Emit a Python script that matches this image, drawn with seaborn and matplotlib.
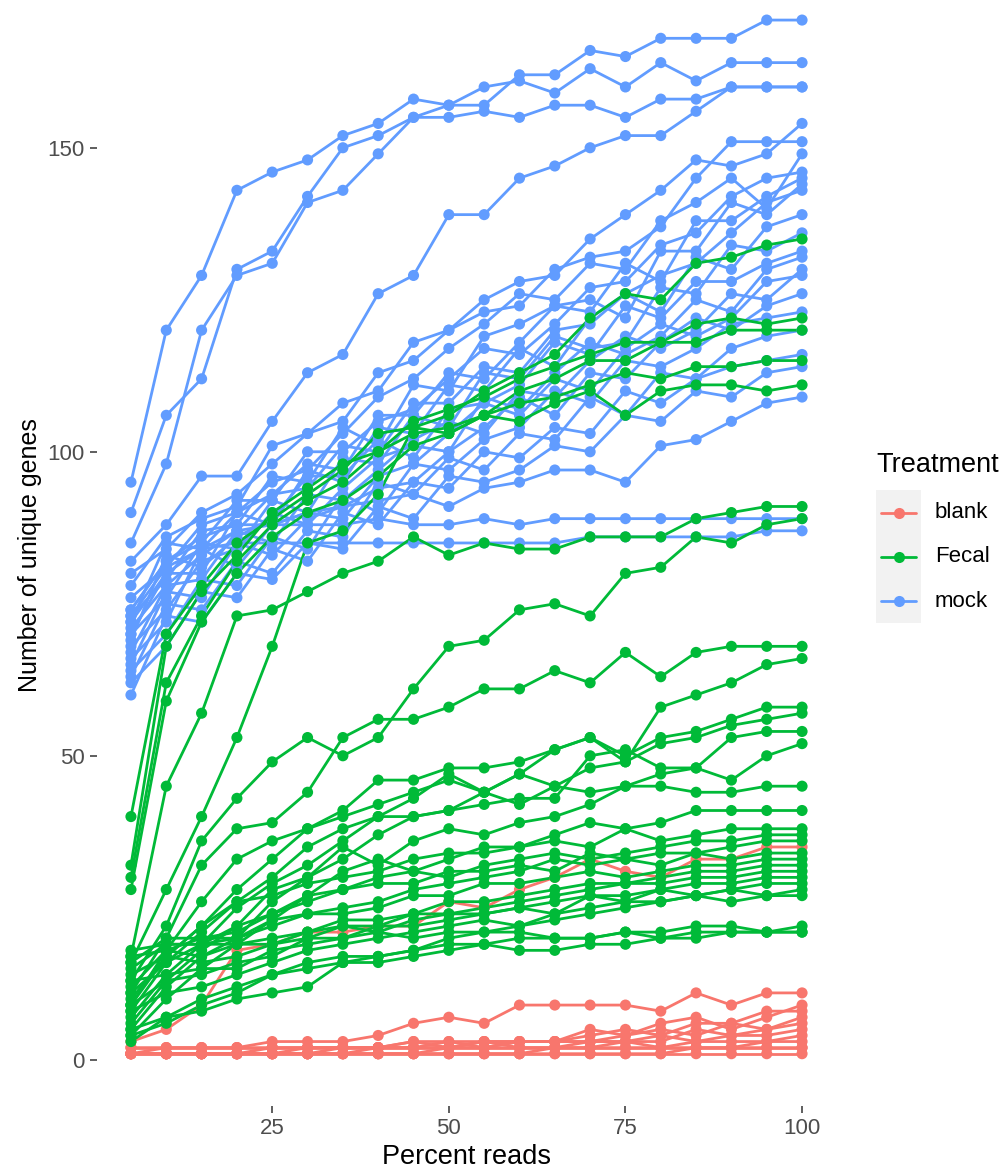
import matplotlib
matplotlib.use("Agg")
import matplotlib.pyplot as plt
from matplotlib.lines import Line2D
from matplotlib.patches import Rectangle
import seaborn as sns
import pandas as pd

# ------------------------------
# DATA
# ------------------------------

pct_reads = [5, 10, 15, 20, 25, 30, 35, 40, 45, 50,
             55, 60, 65, 70, 75, 80, 85, 90, 95, 100]

# blank samples
blank_01 = [3, 5, 9, 18, 19, 21, 21, 22, 22, 26, 25, 28, 30, 33, 31, 30, 33, 33, 35, 35]
blank_02 = [1, 2, 2, 2, 3, 3, 3, 4, 6, 7, 6, 9, 9, 9, 9, 8, 11, 9, 11, 11]
blank_03 = [1, 1, 1, 1, 2, 2, 2, 2, 2, 2, 3, 3, 3, 5, 4, 6, 7, 5, 7, 9]
blank_04 = [1, 1, 1, 1, 1, 2, 2, 2, 2, 3, 2, 3, 3, 4, 5, 4, 6, 6, 8, 8]
blank_05 = [1, 1, 1, 1, 1, 1, 2, 2, 3, 2, 2, 3, 3, 3, 4, 5, 4, 6, 5, 7]
blank_06 = [1, 1, 1, 1, 1, 1, 1, 2, 2, 2, 3, 2, 2, 3, 3, 3, 5, 4, 5, 6]
blank_07 = [2, 2, 2, 2, 2, 2, 2, 2, 3, 3, 3, 3, 3, 3, 3, 4, 3, 4, 4, 5]
blank_08 = [1, 1, 1, 1, 1, 1, 1, 1, 1, 2, 2, 2, 2, 2, 3, 2, 3, 3, 3, 4]
blank_09 = [1, 1, 1, 1, 1, 1, 1, 1, 1, 1, 1, 1, 2, 2, 2, 2, 2, 2, 3, 3]
blank_10 = [1, 1, 1, 1, 1, 1, 1, 1, 1, 1, 1, 1, 1, 1, 1, 1, 2, 2, 2, 2]
blank_11 = [1, 1, 1, 1, 1, 1, 1, 1, 1, 1, 1, 1, 1, 1, 1, 1, 1, 1, 1, 1]
blank_12 = [2, 2, 2, 2, 2, 2, 2, 2, 2, 2, 2, 2, 2, 2, 2, 2, 2, 2, 2, 2]

# Fecal samples
fecal_01 = [40, 70, 78, 85, 89, 93, 97, 103, 104, 106, 110, 113, 116, 122, 126, 125, 131, 132, 134, 135]
fecal_02 = [32, 68, 77, 83, 90, 94, 98, 100, 105, 107, 109, 112, 114, 116, 118, 118, 121, 122, 121, 122]
fecal_03 = [30, 62, 73, 82, 88, 92, 95, 100, 103, 104, 106, 110, 112, 115, 115, 118, 118, 120, 120, 120]
fecal_04 = [28, 59, 72, 80, 86, 90, 92, 96, 101, 103, 106, 108, 109, 111, 113, 112, 114, 114, 115, 115]
fecal_05 = [16, 28, 40, 53, 68, 85, 87, 93, 104, 103, 106, 105, 108, 110, 106, 110, 111, 111, 110, 111]
fecal_06 = [17, 45, 57, 73, 74, 77, 80, 82, 86, 83, 85, 84, 84, 86, 86, 86, 89, 90, 91, 91]
fecal_07 = [13, 22, 36, 43, 49, 53, 50, 53, 61, 68, 69, 74, 75, 73, 80, 81, 86, 85, 88, 89]
fecal_08 = [11, 20, 32, 38, 39, 44, 53, 56, 56, 58, 61, 61, 64, 62, 67, 63, 67, 68, 68, 68]
fecal_09 = [9, 18, 26, 33, 36, 38, 40, 42, 44, 46, 44, 47, 51, 53, 49, 58, 60, 62, 65, 66]
fecal_10 = [9, 17, 22, 28, 33, 38, 41, 46, 46, 48, 48, 49, 51, 53, 50, 53, 54, 56, 58, 58]
fecal_11 = [8, 16, 21, 26, 30, 35, 38, 40, 43, 47, 44, 47, 45, 48, 49, 52, 53, 55, 56, 57]
fecal_12 = [7, 14, 19, 25, 29, 32, 36, 40, 40, 41, 42, 43, 43, 50, 51, 48, 48, 53, 54, 54]
fecal_13 = [6, 13, 18, 22, 28, 30, 33, 37, 40, 41, 44, 42, 45, 44, 45, 47, 48, 46, 50, 52]
fecal_14 = [5, 12, 17, 20, 26, 30, 35, 32, 36, 38, 37, 39, 40, 42, 45, 45, 44, 44, 45, 45]
fecal_15 = [4, 10, 15, 19, 23, 27, 31, 33, 31, 33, 35, 35, 37, 39, 38, 39, 41, 41, 41, 41]
fecal_16 = [10, 17, 22, 26, 27, 29, 30, 31, 33, 34, 34, 35, 36, 35, 38, 36, 37, 38, 38, 38]
fecal_17 = [12, 18, 20, 21, 24, 27, 28, 30, 31, 30, 32, 33, 34, 33, 34, 35, 36, 36, 37, 37]
fecal_18 = [11, 16, 19, 22, 24, 26, 28, 29, 29, 31, 31, 32, 31, 34, 33, 34, 34, 35, 36, 36]
fecal_19 = [15, 19, 19, 20, 22, 24, 25, 26, 28, 29, 30, 31, 33, 32, 33, 32, 34, 33, 34, 34]
fecal_20 = [16, 20, 20, 20, 23, 24, 24, 25, 27, 27, 29, 29, 30, 31, 30, 31, 32, 32, 33, 33]
fecal_21 = [17, 18, 17, 19, 20, 21, 23, 23, 24, 26, 26, 27, 28, 29, 29, 30, 31, 31, 32, 32]
fecal_22 = [14, 17, 16, 17, 19, 21, 22, 22, 24, 24, 25, 26, 27, 28, 29, 29, 30, 30, 31, 31]
fecal_23 = [13, 14, 15, 15, 18, 19, 20, 22, 22, 23, 24, 25, 26, 27, 27, 28, 29, 29, 30, 30]
fecal_24 = [9, 13, 14, 16, 17, 20, 22, 21, 23, 24, 24, 25, 24, 27, 26, 28, 27, 28, 29, 29]
fecal_25 = [8, 11, 12, 14, 16, 18, 19, 20, 21, 22, 23, 22, 24, 25, 26, 26, 27, 28, 27, 28]
fecal_26 = [5, 7, 8, 10, 11, 12, 16, 17, 18, 20, 21, 22, 23, 24, 25, 26, 27, 26, 27, 27]
fecal_27 = [4, 6, 9, 11, 14, 15, 16, 16, 17, 18, 19, 20, 20, 20, 21, 21, 22, 22, 21, 22]
fecal_28 = [3, 7, 10, 12, 14, 16, 17, 17, 18, 19, 19, 18, 18, 19, 19, 20, 20, 21, 21, 21]
fecal_29 = [18, 19, 19, 19, 19, 20, 20, 21, 20, 21, 21, 21, 20, 20, 21, 20, 21, 21, 21, 21]

# mock samples
mock_01 = [95, 120, 129, 143, 146, 148, 152, 154, 158, 157, 157, 162, 162, 166, 165, 168, 168, 168, 171, 171]
mock_02 = [90, 106, 112, 130, 133, 142, 150, 152, 155, 157, 160, 161, 159, 163, 160, 164, 161, 164, 164, 164]
mock_03 = [85, 98, 120, 129, 131, 141, 143, 149, 155, 155, 156, 155, 157, 157, 155, 158, 158, 160, 160, 160]
mock_04 = [82, 88, 96, 96, 105, 113, 116, 126, 129, 139, 139, 145, 147, 150, 152, 152, 156, 160, 160, 160]
mock_05 = [80, 84, 90, 93, 98, 103, 105, 113, 115, 120, 125, 128, 129, 135, 139, 143, 148, 147, 149, 154]
mock_06 = [78, 86, 89, 91, 101, 103, 108, 110, 118, 120, 123, 124, 130, 132, 133, 137, 145, 151, 151, 151]
mock_07 = [76, 81, 88, 90, 95, 97, 103, 109, 112, 117, 121, 126, 125, 131, 130, 138, 141, 145, 140, 149]
mock_08 = [74, 82, 85, 92, 92, 100, 100, 105, 107, 112, 117, 116, 121, 127, 128, 134, 136, 142, 145, 146]
mock_09 = [73, 79, 87, 88, 96, 95, 104, 101, 111, 110, 119, 121, 124, 123, 131, 128, 138, 138, 142, 145]
mock_10 = [72, 85, 84, 90, 93, 98, 97, 106, 106, 113, 112, 118, 124, 125, 122, 133, 133, 141, 139, 144]
mock_11 = [71, 78, 83, 87, 93, 94, 101, 100, 108, 108, 114, 113, 120, 121, 126, 129, 131, 136, 141, 143]
mock_12 = [70, 80, 80, 90, 88, 97, 95, 104, 103, 111, 110, 117, 114, 122, 126, 123, 132, 130, 137, 139]
mock_13 = [70, 76, 85, 84, 92, 90, 99, 98, 106, 104, 113, 112, 119, 117, 118, 127, 126, 134, 133, 136]
mock_14 = [69, 83, 81, 86, 89, 96, 96, 102, 99, 107, 108, 111, 118, 116, 124, 122, 128, 128, 131, 133]
mock_15 = [68, 74, 82, 84, 90, 88, 94, 99, 101, 100, 109, 107, 113, 118, 116, 119, 125, 123, 130, 132]
mock_16 = [67, 78, 79, 87, 85, 93, 92, 97, 102, 105, 103, 110, 109, 115, 119, 117, 120, 126, 125, 130]
mock_17 = [66, 72, 84, 81, 88, 90, 89, 96, 98, 103, 108, 106, 112, 110, 117, 121, 119, 122, 128, 129]
mock_18 = [65, 77, 76, 85, 83, 89, 91, 94, 95, 100, 104, 109, 106, 113, 112, 118, 122, 120, 124, 126]
mock_19 = [64, 70, 79, 78, 86, 84, 93, 90, 98, 97, 102, 104, 110, 108, 115, 114, 117, 121, 122, 123]
mock_20 = [63, 75, 74, 82, 80, 87, 86, 95, 93, 99, 97, 103, 102, 109, 106, 113, 112, 117, 119, 120]
mock_21 = [62, 68, 77, 76, 84, 82, 90, 88, 95, 94, 100, 99, 104, 103, 110, 108, 112, 114, 115, 116]
mock_22 = [60, 73, 72, 80, 79, 85, 84, 91, 89, 96, 95, 97, 101, 100, 106, 105, 110, 109, 113, 114]
mock_23 = [72, 80, 84, 87, 88, 90, 91, 92, 93, 91, 94, 95, 97, 97, 95, 101, 102, 105, 108, 109]
mock_24 = [74, 82, 86, 88, 88, 88, 88, 89, 88, 88, 89, 88, 89, 89, 89, 89, 89, 89, 89, 89]
mock_25 = [73, 81, 84, 85, 85, 85, 85, 85, 85, 85, 85, 85, 85, 86, 86, 86, 86, 86, 87, 87]

blank_series = [blank_01, blank_02, blank_03, blank_04, blank_05, blank_06,
                blank_07, blank_08, blank_09, blank_10, blank_11, blank_12]
fecal_series = [fecal_01, fecal_02, fecal_03, fecal_04, fecal_05, fecal_06, fecal_07,
                fecal_08, fecal_09, fecal_10, fecal_11, fecal_12, fecal_13, fecal_14,
                fecal_15, fecal_16, fecal_17, fecal_18, fecal_19, fecal_20, fecal_21,
                fecal_22, fecal_23, fecal_24, fecal_25, fecal_26, fecal_27, fecal_28,
                fecal_29]
mock_series = [mock_01, mock_02, mock_03, mock_04, mock_05, mock_06, mock_07, mock_08,
               mock_09, mock_10, mock_11, mock_12, mock_13, mock_14, mock_15, mock_16,
               mock_17, mock_18, mock_19, mock_20, mock_21, mock_22, mock_23, mock_24,
               mock_25]

treatments = ["blank", "Fecal", "mock"]
palette = {"blank": "#F8766D", "Fecal": "#00BA38", "mock": "#619CFF"}
draw_order = ["blank", "mock", "Fecal"]

# ------------------------------
# LONG TABLE
# ------------------------------

rows = []
for trt, series in zip(treatments, [blank_series, fecal_series, mock_series]):
    for i, vals in enumerate(series):
        for x, y in zip(pct_reads, vals):
            rows.append({"sample": f"{trt}_{i:02d}", "Treatment": trt,
                         "pct": x, "genes": y})
df = pd.DataFrame(rows)
df["order"] = df["Treatment"].map({t: k for k, t in enumerate(draw_order)})
df = df.sort_values(["order", "sample", "pct"]).reset_index(drop=True)

# ------------------------------
# PLOT
# ------------------------------

sns.set_style("white")
plt.rcParams["font.family"] = ["Liberation Sans", "DejaVu Sans"]

W, H = 1006, 1171
fig = plt.figure(figsize=(W / 100, H / 100), dpi=100)
ax = fig.add_axes([97.4 / W, 1 - 1106 / H, (835.6 - 97.4) / W, 1106 / H])

sns.lineplot(data=df, x="pct", y="genes", hue="Treatment", hue_order=draw_order,
             units="sample", estimator=None, sort=False, palette=palette,
             linewidth=2.0, legend=False, ax=ax)
sns.scatterplot(data=df, x="pct", y="genes", hue="Treatment", hue_order=draw_order,
                palette=palette, s=64, linewidth=0, legend=False, ax=ax, zorder=3)

ax.set_xlim(0.25, 104.75)
ax.set_ylim(-7.6, 174.3)
ax.set_xticks([25, 50, 75, 100])
ax.set_yticks([0, 50, 100, 150])
ax.tick_params(axis="both", which="major", length=5, width=1.1, color="#333333",
               labelcolor="#4D4D4D", labelsize=16, pad=4)
ax.tick_params(axis="both", bottom=True, left=True)
sns.despine(ax=ax, left=True, bottom=True)
ax.set_xlabel("")
ax.set_ylabel("")

fig.text(466 / W, 1 - 1157 / H, "Percent reads", ha="center", va="center",
         fontsize=19.5, color="black")
fig.text(30 / W, 1 - 555 / H, "Number of unique genes", ha="center", va="center",
         rotation=90, fontsize=18, color="black")

# legend (ggplot-style, grey key background)
fig.text(876 / W, 1 - 465 / H, "Treatment", ha="left", va="center",
         fontsize=19.5, color="black")
fig.add_artist(Rectangle((876 / W, 1 - 623 / H), 45 / W, 133 / H,
                         transform=fig.transFigure, facecolor="#F2F2F2",
                         edgecolor="none"))
for trt, ky in zip(treatments, [513, 557, 601]):
    yf = 1 - ky / H
    fig.add_artist(Line2D([881 / W, 916 / W], [yf, yf], transform=fig.transFigure,
                          color=palette[trt], linewidth=2.0))
    fig.add_artist(Line2D([898.5 / W], [yf], transform=fig.transFigure,
                          color=palette[trt], marker="o", markersize=8,
                          markeredgewidth=0, linestyle="none"))
    fig.text(935 / W, yf, trt, ha="left", va="center", fontsize=16, color="black")

fig.savefig("out.png", dpi=100)
